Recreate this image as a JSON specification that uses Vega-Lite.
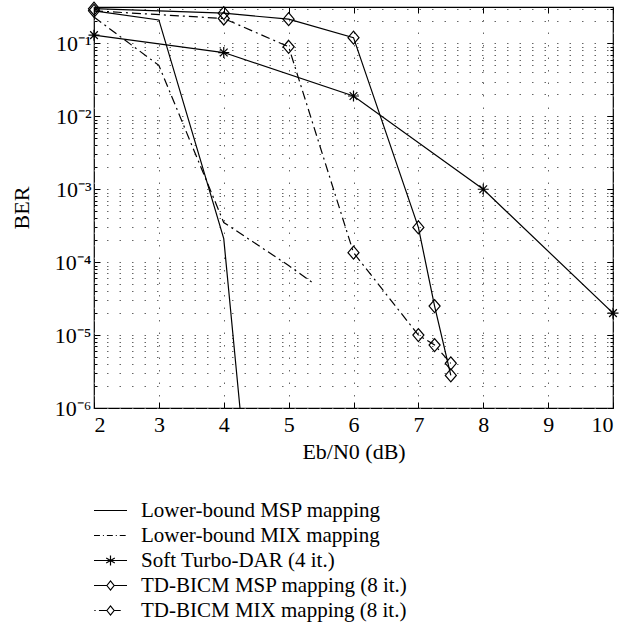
{
  "$schema": "https://vega.github.io/schema/vega-lite/v6.json",
  "width": 519,
  "height": 401,
  "autosize": {"type": "none"},
  "padding": {"left": 94, "top": 7, "right": 23, "bottom": 220},
  "background": "white",
  "config": {
    "view": {"stroke": "black", "strokeWidth": 1.2},
    "font": "Liberation Serif",
    "axis": {
      "domain": false,
      "labelFont": "Liberation Serif",
      "labelFontSize": 22,
      "labelColor": "black",
      "titleFont": "Liberation Serif",
      "titleFontSize": 22,
      "titleFontWeight": "normal",
      "titleColor": "black",
      "tickColor": "black",
      "tickWidth": 1,
      "gridColor": "#666666",
      "gridDash": [1.5, 11],
      "gridWidth": 1,
      "gridOpacity": 1
    }
  },
  "datasets": {
    "curves": [
      {"series": "Lower-bound MSP mapping", "style": "solid", "x": 2, "y": 0.28},
      {"series": "Lower-bound MSP mapping", "style": "solid", "x": 3, "y": 0.21},
      {"series": "Lower-bound MSP mapping", "style": "solid", "x": 4, "y": 0.00021},
      {"series": "Lower-bound MSP mapping", "style": "solid", "x": 4.25, "y": 0.000001},
      {"series": "Lower-bound MIX mapping", "style": "dashdot", "x": 2, "y": 0.23},
      {"series": "Lower-bound MIX mapping", "style": "dashdot", "x": 3, "y": 0.05},
      {"series": "Lower-bound MIX mapping", "style": "dashdot", "x": 4, "y": 0.00035},
      {"series": "Lower-bound MIX mapping", "style": "dashdot", "x": 5, "y": 0.00009},
      {"series": "Lower-bound MIX mapping", "style": "dashdot", "x": 5.4, "y": 0.00005},
      {"series": "Soft Turbo-DAR (4 it.)", "style": "solid", "x": 2, "y": 0.13},
      {"series": "Soft Turbo-DAR (4 it.)", "style": "solid", "x": 4, "y": 0.075},
      {"series": "Soft Turbo-DAR (4 it.)", "style": "solid", "x": 6, "y": 0.019},
      {"series": "Soft Turbo-DAR (4 it.)", "style": "solid", "x": 8, "y": 0.001},
      {"series": "Soft Turbo-DAR (4 it.)", "style": "solid", "x": 10, "y": 0.00002},
      {"series": "TD-BICM MSP mapping (8 it.)", "style": "solid", "x": 2, "y": 0.3},
      {"series": "TD-BICM MSP mapping (8 it.)", "style": "solid", "x": 4, "y": 0.26},
      {"series": "TD-BICM MSP mapping (8 it.)", "style": "solid", "x": 5, "y": 0.215},
      {"series": "TD-BICM MSP mapping (8 it.)", "style": "solid", "x": 6, "y": 0.12},
      {"series": "TD-BICM MSP mapping (8 it.)", "style": "solid", "x": 7, "y": 0.0003},
      {"series": "TD-BICM MSP mapping (8 it.)", "style": "solid", "x": 7.25, "y": 0.000025},
      {"series": "TD-BICM MSP mapping (8 it.)", "style": "solid", "x": 7.5, "y": 0.0000028},
      {"series": "TD-BICM MIX mapping (8 it.)", "style": "dashdot", "x": 2, "y": 0.28},
      {"series": "TD-BICM MIX mapping (8 it.)", "style": "dashdot", "x": 4, "y": 0.22},
      {"series": "TD-BICM MIX mapping (8 it.)", "style": "dashdot", "x": 5, "y": 0.09},
      {"series": "TD-BICM MIX mapping (8 it.)", "style": "dashdot", "x": 6, "y": 0.000135},
      {"series": "TD-BICM MIX mapping (8 it.)", "style": "dashdot", "x": 7, "y": 0.00001},
      {"series": "TD-BICM MIX mapping (8 it.)", "style": "dashdot", "x": 7.25, "y": 0.0000073},
      {"series": "TD-BICM MIX mapping (8 it.)", "style": "dashdot", "x": 7.5, "y": 0.0000041}
    ],
    "legendrows": [
      {"series": "Lower-bound MSP mapping"},
      {"series": "Lower-bound MIX mapping"},
      {"series": "Soft Turbo-DAR (4 it.)"},
      {"series": "TD-BICM MSP mapping (8 it.)"},
      {"series": "TD-BICM MIX mapping (8 it.)"}
    ]
  },
  "layer": [
    {
      "data": {"name": "curves"},
      "transform": [{"filter": "datum.style === 'solid'"}],
      "mark": {"type": "line", "color": "black", "strokeWidth": 1.2, "clip": true},
      "encoding": {
        "x": {
          "field": "x", "type": "quantitative",
          "scale": {"domain": [2, 10], "nice": false, "zero": false},
          "axis": {
            "title": "Eb/N0 (dB)",
            "values": [2, 3, 4, 5, 6, 7, 8, 9, 10],
            "grid": true,
            "tickSize": -6,
            "labelPadding": 12,
            "titlePadding": 6
          }
        },
        "y": {
          "field": "y", "type": "quantitative",
          "scale": {"type": "log", "domain": [0.000001, 0.316], "nice": false},
          "axis": {
            "title": "BER",
            "values": [0.000001, 0.000002, 0.000003, 0.000004, 0.000005, 0.000006, 0.000007, 0.000008, 0.000009,
                       0.00001, 0.00002, 0.00003, 0.00004, 0.00005, 0.00006, 0.00007, 0.00008, 0.00009,
                       0.0001, 0.0002, 0.0003, 0.0004, 0.0005, 0.0006, 0.0007, 0.0008, 0.0009,
                       0.001, 0.002, 0.003, 0.004, 0.005, 0.006, 0.007, 0.008, 0.009,
                       0.01, 0.02, 0.03, 0.04, 0.05, 0.06, 0.07, 0.08, 0.09,
                       0.1, 0.2, 0.3],
            "grid": true,
            "labelOverlap": false,
            "labelExpr": "abs(log(datum.value)/LN10 - round(log(datum.value)/LN10)) < 0.001 ? '10⁻' + ['⁰','¹','²','³','⁴','⁵','⁶'][-round(log(datum.value)/LN10)] : ''",
            "tickSize": {"condition": {"test": "abs(log(datum.value)/LN10 - round(log(datum.value)/LN10)) < 0.001", "value": -6}, "value": -3},
            "labelPadding": 9,
            "titlePadding": 21
          }
        },
        "detail": {"field": "series", "type": "nominal"}
      }
    },
    {
      "data": {"name": "curves"},
      "transform": [{"filter": "datum.style === 'dashdot'"}],
      "mark": {"type": "line", "color": "black", "strokeWidth": 1.2, "clip": true, "strokeDash": [9, 4, 2, 4]},
      "encoding": {
        "x": {"field": "x", "type": "quantitative", "axis": null},
        "y": {"field": "y", "type": "quantitative", "axis": null},
        "detail": {"field": "series", "type": "nominal"}
      }
    },
    {
      "data": {"name": "curves"},
      "transform": [{"filter": "indexof(datum.series, 'TD-BICM') === 0"}],
      "mark": {"type": "point", "filled": false, "color": "black", "strokeWidth": 1.2, "opacity": 1,
               "shape": "M0,-1L0.85,0L0,1L-0.85,0Z", "size": 169},
      "encoding": {
        "x": {"field": "x", "type": "quantitative", "axis": null},
        "y": {"field": "y", "type": "quantitative", "axis": null}
      }
    },
    {
      "data": {"name": "curves"},
      "transform": [{"filter": "datum.series === 'Soft Turbo-DAR (4 it.)'"}],
      "mark": {"type": "point", "filled": false, "color": "black", "strokeWidth": 1.2, "opacity": 1,
               "shape": "M-1,0H1M0,-1V1M-0.7,-0.7L0.7,0.7M-0.7,0.7L0.7,-0.7", "size": 121},
      "encoding": {
        "x": {"field": "x", "type": "quantitative", "axis": null},
        "y": {"field": "y", "type": "quantitative", "axis": null}
      }
    },
    {
      "data": {"name": "legendrows"},
      "mark": {"type": "point", "filled": false, "color": "black", "strokeWidth": 1.2},
      "encoding": {
        "x": {"field": "lx", "type": "quantitative", "axis": null},
        "y": {"field": "ly", "type": "quantitative", "axis": null},
        "shape": {
          "field": "series", "type": "nominal",
          "scale": {
            "domain": ["Lower-bound MSP mapping", "Lower-bound MIX mapping", "Soft Turbo-DAR (4 it.)", "TD-BICM MSP mapping (8 it.)", "TD-BICM MIX mapping (8 it.)"],
            "range": [
              "M-1,0H1",
              "M-1,0H-0.64M-0.46,0H-0.4M-0.22,0H0.14M0.32,0H0.38M0.56,0H0.92",
              "M-1,0H1M0,-0.3V0.3M-0.26,-0.15L0.26,0.15M-0.26,0.15L0.26,-0.15",
              "M-1,0H-0.22L0,-0.28L0.22,0L0,0.28L-0.22,0M0.22,0H1",
              "M-0.98,0H-0.9M-0.7,0H-0.22L0,-0.28L0.22,0L0,0.28L-0.22,0M0.22,0H0.62"
            ]
          },
          "legend": {
            "orient": "none",
            "legendX": -1,
            "legendY": 495,
            "title": null,
            "padding": 0,
            "symbolSize": 1089,
            "symbolStrokeWidth": 1.2,
            "symbolStrokeColor": "black",
            "symbolFillColor": "transparent",
            "symbolOpacity": 1,
            "labelFont": "Liberation Serif",
            "labelFontSize": 21,
            "labelColor": "black",
            "labelOffset": 13,
            "labelLimit": 400,
            "clipHeight": 17,
            "rowPadding": 3
          }
        }
      }
    },
    {
      "data": {"name": "curves"},
      "mark": {"type": "point", "opacity": 0},
      "encoding": {
        "x": {
          "field": "x", "type": "quantitative",
          "axis": {"orient": "top", "title": null, "labels": false, "grid": false,
                   "values": [2, 3, 4, 5, 6, 7, 8, 9, 10], "tickSize": -6}
        },
        "y": {
          "field": "y", "type": "quantitative",
          "axis": {
            "orient": "right", "title": null, "labels": false, "grid": false,
            "values": [0.000001, 0.000002, 0.000003, 0.000004, 0.000005, 0.000006, 0.000007, 0.000008, 0.000009,
                       0.00001, 0.00002, 0.00003, 0.00004, 0.00005, 0.00006, 0.00007, 0.00008, 0.00009,
                       0.0001, 0.0002, 0.0003, 0.0004, 0.0005, 0.0006, 0.0007, 0.0008, 0.0009,
                       0.001, 0.002, 0.003, 0.004, 0.005, 0.006, 0.007, 0.008, 0.009,
                       0.01, 0.02, 0.03, 0.04, 0.05, 0.06, 0.07, 0.08, 0.09,
                       0.1, 0.2, 0.3],
            "tickSize": {"condition": {"test": "abs(log(datum.value)/LN10 - round(log(datum.value)/LN10)) < 0.001", "value": -6}, "value": -3}
          }
        }
      }
    }
  ],
  "resolve": {"axis": {"x": "independent", "y": "independent"}}
}
